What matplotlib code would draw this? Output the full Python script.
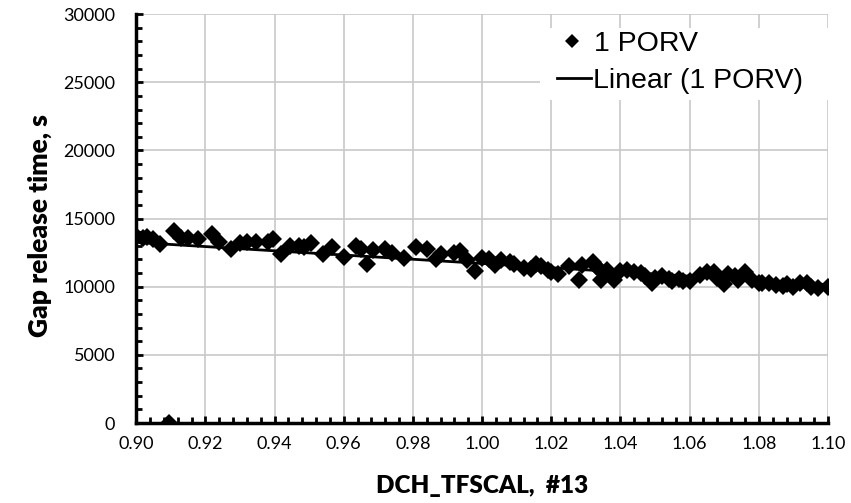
import numpy as np
import matplotlib
matplotlib.use("Agg", force=True)
import matplotlib.pyplot as plt
from matplotlib.patches import Rectangle
from matplotlib.ticker import MultipleLocator, FormatStrFormatter

# Values (DCH_TFSCAL vs gap release time)
tfscal = [
    0.900, 0.902, 0.903, 0.905, 0.907, 0.9095, 0.911, 0.913, 0.915, 0.918,
    0.922, 0.924, 0.9275, 0.930, 0.932, 0.9345, 0.938, 0.9395, 0.942, 0.9445,
    0.947, 0.9485, 0.9505, 0.954, 0.9565, 0.960, 0.9636, 0.965, 0.9668, 0.9685,
    0.972, 0.974, 0.9775, 0.981, 0.984, 0.9867, 0.988, 0.992, 0.9935, 0.9957,
    0.998, 1.000, 1.002, 1.0037, 1.0055, 1.008, 1.0092, 1.012, 1.014, 1.0155,
    1.017, 1.019, 1.020, 1.022, 1.025, 1.028, 1.029, 1.032, 1.033, 1.034,
    1.0345, 1.036, 1.038, 1.040, 1.042, 1.044, 1.046, 1.047, 1.049, 1.050,
    1.052, 1.054, 1.055, 1.057, 1.058, 1.060, 1.063, 1.065, 1.067, 1.068,
    1.070, 1.071, 1.073, 1.074, 1.076, 1.078, 1.080, 1.081, 1.083, 1.085,
    1.087, 1.088, 1.090, 1.092, 1.094, 1.095, 1.097, 1.100,
]
gap_time = [
    13700, 13600, 13650, 13500, 13100, 0, 14100, 13600, 13600, 13500,
    13900, 13300, 12800, 13200, 13300, 13300, 13300, 13500, 12400, 13000,
    13000, 12900, 13200, 12400, 12900, 12200, 13000, 12800, 11700, 12700,
    12800, 12500, 12100, 12900, 12800, 12000, 12400, 12500, 12600, 11950,
    11150, 12100, 12000, 11600, 11950, 11800, 11700, 11350, 11300, 11650,
    11500, 11200, 11100, 10950, 11500, 10500, 11600, 11800, 11500, 11200,
    10500, 11200, 10500, 11150, 11200, 11100, 11000, 10800, 10250, 10650,
    10800, 10550, 10400, 10600, 10400, 10450, 10850, 11100, 11100, 10650,
    10200, 10900, 10800, 10500, 11100, 10500, 10300, 10300, 10250, 10150,
    10050, 10200, 10000, 10250, 10250, 9950, 9900, 9950,
]

x = np.array(tfscal)
y = np.array(gap_time)
slope, intercept = np.polyfit(x, y, 1)
x_fit = np.array([0.90, 1.10])

# Calibri-like look: Lato (Carlito is derived from it)
plt.rcParams["font.family"] = ["Lato", "DejaVu Sans"]

fig = plt.figure(figsize=(8.51, 5.03), dpi=100)
ax = fig.add_axes([0.160, 0.159, 0.813, 0.813])

pts, = ax.plot(x, y, linestyle="none", marker="D", markersize=9.5, color="black",
               markeredgewidth=0, label="1 PORV", zorder=3)
fit, = ax.plot(x_fit, slope * x_fit + intercept, color="black", linewidth=2,
               label="Linear (1 PORV)", zorder=4)

ax.set_xlim(0.90, 1.10)
ax.set_ylim(0, 30000)
ax.xaxis.set_major_locator(MultipleLocator(0.02))
ax.xaxis.set_minor_locator(MultipleLocator(0.004))
ax.yaxis.set_major_locator(MultipleLocator(5000))
ax.yaxis.set_minor_locator(MultipleLocator(1000))
ax.xaxis.set_major_formatter(FormatStrFormatter("%.2f"))

ax.grid(True, which="major", color="#c8c8c8", linewidth=1.2, zorder=0)
ax.set_axisbelow(True)
for side in ("top", "right"):
    ax.spines[side].set_visible(False)
for side in ("left", "bottom"):
    ax.spines[side].set_linewidth(2.5)
    ax.spines[side].set_color("black")

ax.tick_params(which="both", direction="in", color="black", width=2)
ax.tick_params(which="major", length=5, labelsize=13, pad=9)
ax.tick_params(which="minor", length=4)
ax.tick_params(axis="y", which="major", pad=15)

ax.set_xlabel("DCH_TFSCAL,  #13", fontsize=17.5, fontweight="heavy", labelpad=17)
ax.set_ylabel("Gap release time, s", fontsize=19, fontweight="heavy")
ax.yaxis.set_label_coords(-0.121, 0.484)

# white legend background (Excel legend box hides the grid behind it)
ax.add_patch(Rectangle((0.584, 0.790), 0.42, 0.176, transform=ax.transAxes,
                       facecolor="white", edgecolor="none", zorder=4.5,
                       clip_on=False))

# Excel-style legend: the two rows are not aligned, so two separate legends
leg_font = {"family": "Liberation Sans", "size": 20.5}
leg1 = ax.legend(handles=[pts], loc="center left", bbox_to_anchor=(0.664, 0.912),
                 bbox_transform=fig.transFigure, frameon=False, prop=leg_font,
                 borderpad=0, borderaxespad=0, handlelength=0.5,
                 handletextpad=0.5, markerscale=0.7)
ax.add_artist(leg1)
ax.legend(handles=[fit], loc="center left", bbox_to_anchor=(0.6545, 0.839),
          bbox_transform=fig.transFigure, frameon=False, prop=leg_font,
          borderpad=0, borderaxespad=0, handlelength=1.2, handletextpad=0.05)

fig.savefig("out.png", dpi=100)
